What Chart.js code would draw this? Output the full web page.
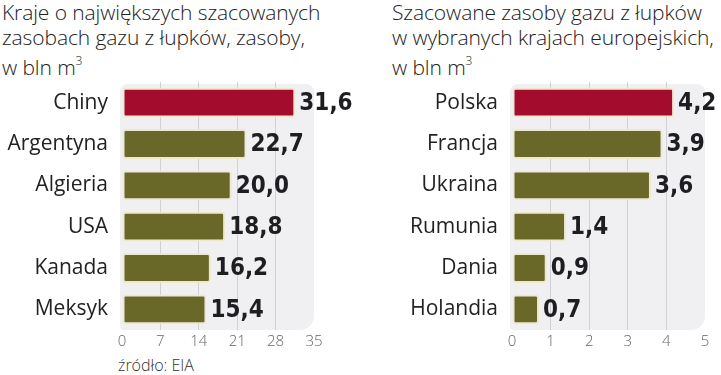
<!DOCTYPE html>
<html>
<head>
<meta charset="utf-8">
<script src="https://cdn.jsdelivr.net/npm/chart.js@4"></script>
<style>
	body { margin: 0; background: #fff; width: 721px; height: 375px; position: relative; overflow: hidden; font-family: "Open Sans", sans-serif; }
	.title { position: absolute; top: 0; font-size: 21px; font-weight: 300; line-height: 25px; color: #222; white-space: nowrap; letter-spacing: -0.1px; }
	.title sup { font-size: 12px; position: relative; top: -2px; }
	.src { position: absolute; left: 118px; top: 354px; font-size: 16px; font-weight: 300; color: #333; }
	canvas { position: absolute; top: 0; }
</style>
</head>
<body>
<div class="title" style="left:2px">Kraje o największych szacowanych<br>zasobach gazu z łupków, zasoby,<br>w bln m<sup>3</sup></div>
<div class="title" style="left:392px">Szacowane zasoby gazu z łupków<br>w wybranych krajach europejskich,<br>w bln m<sup>3</sup></div>
<div class="src">źródło: EIA</div>
<div style="position:absolute;left:0;top:0;width:360px;height:375px"><canvas id="chartWorld"></canvas></div>
<div style="position:absolute;left:360px;top:0;width:361px;height:375px"><canvas id="chartEurope"></canvas></div>
<script>
// Świat
const worldLabels = ['Chiny', 'Argentyna', 'Algieria', 'USA', 'Kanada', 'Meksyk'];
const worldValues = [31.6, 22.7, 20.0, 18.8, 16.2, 15.4];
const worldTicks = [0, 7, 14, 21, 28, 35];

// Europa
const euroLabels = ['Polska', 'Francja', 'Ukraina', 'Rumunia', 'Dania', 'Holandia'];
const euroValues = [4.2, 3.9, 3.6, 1.4, 0.9, 0.7];
const euroTicks = [0, 1, 2, 3, 4, 5];

const RED = '#a30c2c';
const OLIVE = '#6a6829';

// tło wykresu (szary panel)
const panelPlugin = {
	id: 'panel',
	beforeDraw(chart) {
		const a = chart.chartArea, ctx = chart.ctx;
		ctx.save();
		ctx.fillStyle = '#f0f0f2';
		ctx.beginPath();
		ctx.roundRect(a.left - 2, a.top + 2, a.right - a.left + 2, a.bottom - a.top - 2, [8, 8, 14, 4]);
		ctx.fill();
		ctx.restore();
	}
};

// etykiety wartości
const valuePlugin = {
	id: 'values',
	afterDatasetsDraw(chart) {
		const ctx = chart.ctx;
		const meta = chart.getDatasetMeta(0);
		ctx.save();
		ctx.font = 'bold 24px "DejaVu Sans Condensed", "Liberation Sans Narrow", sans-serif';
		ctx.fillStyle = '#1e1e22';
		ctx.textBaseline = 'middle';
		meta.data.forEach((bar, i) => {
			const v = chart.data.datasets[0].data[i];
			ctx.fillText(v.toFixed(1).replace('.', ','), bar.x + 4, bar.y + 1);
		});
		ctx.restore();
	}
};

function makeChart(id, labels, values, ticks, yWidth, padRight) {
	const max = ticks[ticks.length - 1];
	return new Chart(document.getElementById(id), {
		type: 'bar',
		data: {
			labels: labels,
			datasets: [{
				data: values,
				backgroundColor: values.map((v, i) => i === 0 ? RED : OLIVE),
				borderColor: '#eee8cc',
				borderWidth: 2,
				borderRadius: 3,
				borderSkipped: false,
				categoryPercentage: 1,
				barPercentage: 0.72
			}]
		},
		options: {
			indexAxis: 'y',
			responsive: true,
			maintainAspectRatio: false,
			animation: false,
			layout: { padding: { top: 82, bottom: 21, right: padRight, left: 0 } },
			plugins: { legend: { display: false }, tooltip: { enabled: false } },
			scales: {
				x: {
					min: 0, max: max,
					afterBuildTicks: s => { s.ticks = ticks.map(v => ({ value: v })); },
					border: { display: false },
					grid: {
						color: c => (c.index === 0 || c.index === ticks.length - 1) ? 'rgba(0,0,0,0)' : '#cfcfd4',
						lineWidth: 1,
						drawTicks: false
					},
					ticks: { color: '#666', padding: 3, font: { family: 'Open Sans', size: 15, weight: '300' } }
				},
				y: {
					afterFit: s => { s.width = yWidth; },
					border: { display: false },
					grid: { display: false },
					ticks: { color: '#222', padding: 6, font: { family: 'Open Sans', size: 21 } }
				}
			}
		},
		plugins: [panelPlugin, valuePlugin]
	});
}

makeChart('chartWorld', worldLabels, worldValues, worldTicks, 122, 46);
makeChart('chartEurope', euroLabels, euroValues, euroTicks, 152, 16);
</script>
</body>
</html>
